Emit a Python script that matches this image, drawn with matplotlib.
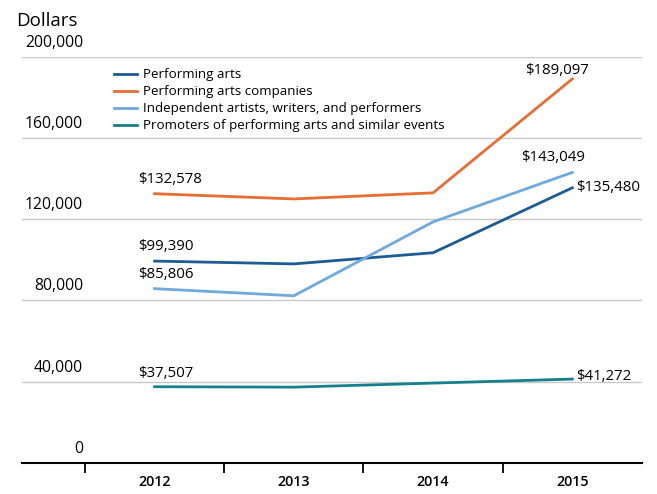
import numpy as np
from matplotlib import pyplot as plt

years = ['2012', '2013', '2014', '2015']
performing_arts = [99390, 98000, 103500, 135480]
companies = [132578, 130000, 133000, 189097]
independent = [85806, 82300, 118700, 143049]
promoters = [37507, 37300, 39300, 41272]

series_names = ['Performing arts', 'Performing arts companies',
                'Independent artists, writers, and performers',
                'Promoters of performing arts and similar events']
colors = ['#1c5b94', '#e56e35', '#6fa9df', '#167f8c']
yticks = [0, 40000, 80000, 120000, 160000, 200000]

plt.rcParams['font.family'] = ['Open Sans', 'DejaVu Sans']

fig = plt.figure(figsize=(6.57, 4.94), dpi=100)
ax = fig.add_axes([0.034, 0.063, 0.943, 0.822])

x = np.arange(len(years))
all_series = [performing_arts, companies, independent, promoters]
for vals, name, c in zip(all_series, series_names, colors):
    ax.plot(x, vals, color=c, linewidth=2.0, label=name)

ax.set_xlim(-0.95, 3.5)
ax.set_ylim(0, 200000)

# gridlines + y labels sitting above them
for v in yticks[1:]:
    ax.axhline(v, color='#c8c8c8', linewidth=1, zorder=0)
for v in yticks:
    ax.text(0.098, v + 3000, f'{v:,}', transform=ax.get_yaxis_transform(),
            ha='right', va='bottom', fontsize=11.3)
ax.set_yticks([])

ax.set_xticks([-0.5, 0.5, 1.5, 2.5])
ax.set_xticklabels([])
ax.tick_params(axis='x', which='major', direction='out', length=7, width=1.3)
ax.set_xticks(x, minor=True)
ax.set_xticklabels(years, minor=True, fontsize=10.3, fontweight='semibold')
ax.tick_params(axis='x', which='minor', length=0, pad=9)

for s in ['top', 'right', 'left']:
    ax.spines[s].set_visible(False)
ax.spines['bottom'].set_linewidth(1.5)

fig.text(0.024, 0.958, 'Dollars', fontsize=13.5, ha='left', va='center')

# value labels
lbl = dict(fontsize=10.8)
ax.annotate(f'${companies[0]:,}', (0, companies[0]), xytext=(-12, 5),
            textcoords='offset points', ha='left', va='bottom', **lbl)
ax.annotate(f'${performing_arts[0]:,}', (0, performing_arts[0]), xytext=(-12, 5),
            textcoords='offset points', ha='left', va='bottom', **lbl)
ax.annotate(f'${independent[0]:,}', (0, independent[0]), xytext=(-12, 5),
            textcoords='offset points', ha='left', va='bottom', **lbl)
ax.annotate(f'${promoters[0]:,}', (0, promoters[0]), xytext=(-12, 4),
            textcoords='offset points', ha='left', va='bottom', **lbl)
ax.annotate(f'${companies[3]:,}', (3, companies[3]), xytext=(12, 1),
            textcoords='offset points', ha='right', va='bottom', **lbl)
ax.annotate(f'${independent[3]:,}', (3, independent[3]), xytext=(-14, 5),
            textcoords='offset points', ha='center', va='bottom', **lbl)
ax.annotate(f'${performing_arts[3]:,}', (3, performing_arts[3]), xytext=(3, 0),
            textcoords='offset points', ha='left', va='center', **lbl)
ax.annotate(f'${promoters[3]:,}', (3, promoters[3]), xytext=(3, 2),
            textcoords='offset points', ha='left', va='center', **lbl)

ax.legend(loc='upper left', bbox_to_anchor=(0.14, 0.985), frameon=False,
          fontsize=9.6, handlelength=1.7, handletextpad=0.45,
          labelspacing=0.3, borderaxespad=0)

plt.savefig('out.png', dpi=100)
